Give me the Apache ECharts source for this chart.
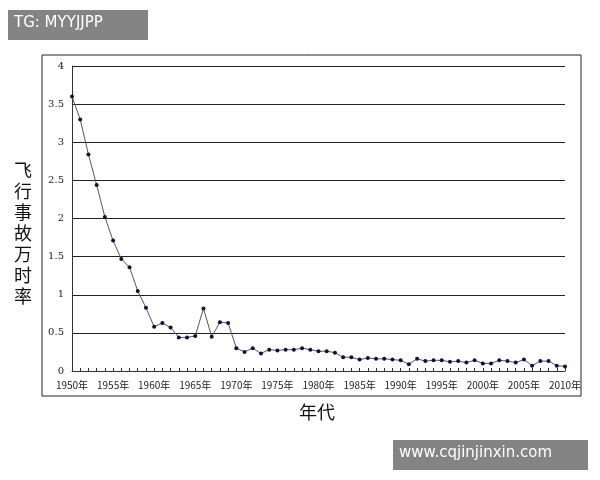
<!DOCTYPE html>
<html>
<head>
<meta charset="UTF-8">
<script src="https://cdn.jsdelivr.net/npm/echarts@6/dist/echarts.min.js"></script>
<style>
  body { margin: 0; background: #fff; }
  #chart { width: 600px; height: 480px; }
</style>
</head>
<body>
<div id="chart"></div>
<script>
var years = [];
for (var y = 1950; y <= 2010; y++) years.push(String(y));
var rates = [3.6, 3.3, 2.84, 2.44, 2.02, 1.71, 1.47, 1.36, 1.05, 0.83,
  0.58, 0.63, 0.57, 0.44, 0.44, 0.46, 0.82, 0.45, 0.64, 0.63,
  0.3, 0.25, 0.3, 0.23, 0.28, 0.27, 0.28, 0.28, 0.3, 0.28,
  0.26, 0.26, 0.24, 0.18, 0.18, 0.15, 0.17, 0.16, 0.16, 0.15,
  0.14, 0.09, 0.16, 0.13, 0.14, 0.14, 0.12, 0.13, 0.11, 0.14,
  0.1, 0.1, 0.14, 0.13, 0.11, 0.15, 0.07, 0.13, 0.13, 0.07, 0.06];

var chart = echarts.init(document.getElementById('chart'));
chart.setOption({
  animation: false,
  grid: { left: 72, right: 35, top: 66, bottom: 109 },
  graphic: [
    { type: 'rect', shape: { x: 42, y: 55, width: 539, height: 341 }, style: { fill: 'none', stroke: '#222', lineWidth: 1 } },
    { type: 'text', left: 14, top: 160, style: { text: '飞\n行\n事\n故\n万\n时\n率', font: '18px "Noto Sans CJK SC"', fill: '#111', lineHeight: 21 } },
    { type: 'text', left: 299, top: 403, style: { text: '年代', font: '18px "Noto Sans CJK SC"', fill: '#111' } },
    { type: 'rect', shape: { x: 8, y: 10, width: 140, height: 30 }, style: { fill: 'rgba(110,110,110,0.85)' } },
    { type: 'text', left: 14, top: 16, style: { text: 'TG: MYYJJPP', font: '15px "DejaVu Sans"', fill: '#fff' } },
    { type: 'rect', shape: { x: 393, y: 440, width: 195, height: 30 }, style: { fill: 'rgba(110,110,110,0.85)' } },
    { type: 'text', left: 399, top: 446, style: { text: 'www.cqjinjinxin.com', font: '15px "DejaVu Sans"', fill: '#fff' } }
  ],
  xAxis: {
    type: 'category', data: years, boundaryGap: false,
    axisLine: { lineStyle: { color: '#333' } },
    axisTick: { inside: true, length: 3, interval: 0, lineStyle: { color: '#333' } },
    axisLabel: {
      interval: 4, color: '#222', fontSize: 10, fontFamily: '"Noto Sans CJK SC"', margin: 9,
      formatter: function (v) { return v + '年'; }
    },
    splitLine: { show: false }
  },
  yAxis: {
    type: 'value', min: 0, max: 4, interval: 0.5,
    axisLine: { show: true, lineStyle: { color: '#333' } },
    axisTick: { show: false },
    axisLabel: { color: '#222', fontSize: 10, fontFamily: '"DejaVu Serif"', margin: 8 },
    splitLine: { lineStyle: { color: '#222', width: 1 } }
  },
  series: [{
    type: 'line', data: rates,
    symbol: 'circle', symbolSize: 4,
    lineStyle: { color: '#555', width: 1 },
    itemStyle: { color: '#10103a' }
  }]
});
</script>
</body>
</html>
